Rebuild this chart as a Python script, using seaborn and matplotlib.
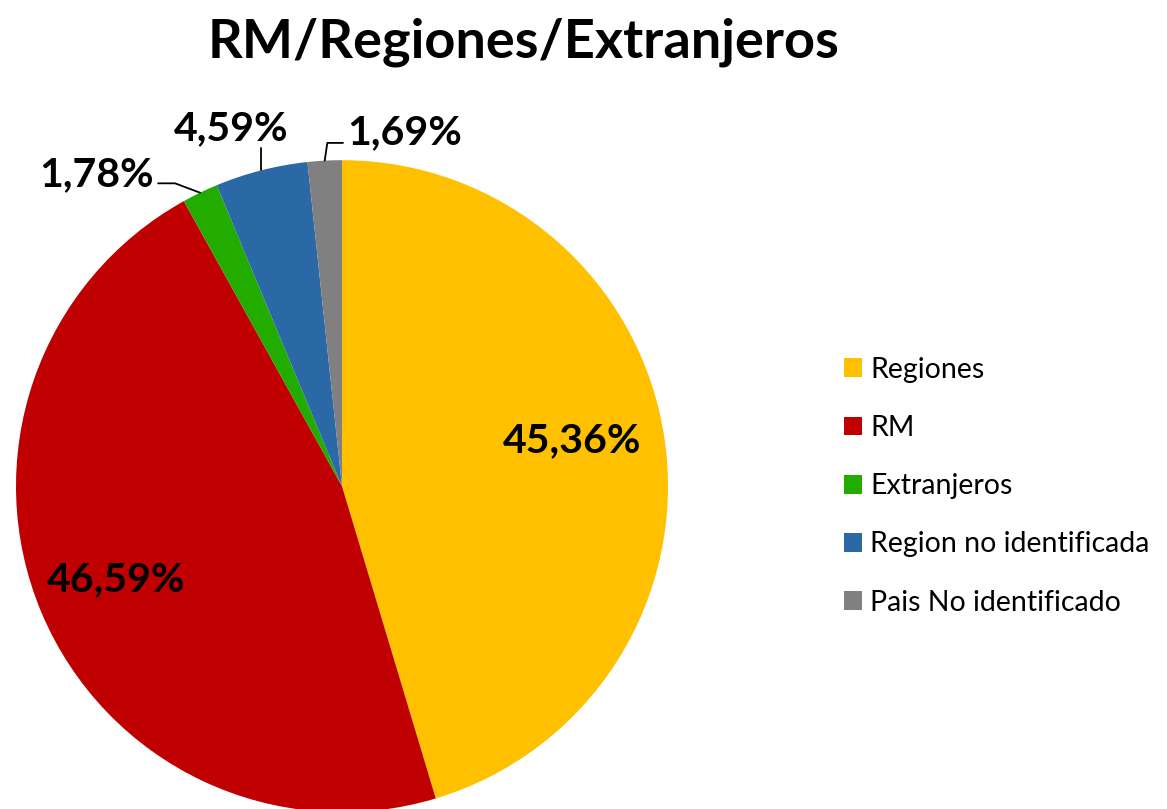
import numpy as np
import seaborn as sns
import matplotlib.pyplot as plt
from matplotlib.patches import Patch

# data
categories = ['Regiones', 'RM', 'Extranjeros', 'Region no identificada', 'Pais No identificado']
values = [45.36, 46.59, 1.78, 4.59, 1.69]
labels = ['45,36%', '46,59%', '1,78%', '4,59%', '1,69%']
colors = ['#FFC000', '#C00000', '#22AC00', '#2A68A6', '#808080']

sns.set_theme(style='white')
plt.rcParams['font.family'] = ['Lato', 'DejaVu Sans']
plt.rcParams['text.color'] = 'black'

fig = plt.figure(figsize=(11.67, 8.09), dpi=100)
ax = fig.add_axes([0.0137, -0.004, 0.5587, 0.806])
wedges, _ = ax.pie(values, colors=colors, startangle=90, counterclock=False,
                   radius=1, wedgeprops=dict(linewidth=0))
ax.set_xlim(-1, 1)
ax.set_ylim(-1, 1)
ax.set_aspect('auto')
ax.axis('off')

lab_size = 29.5

# inside labels
ax.text(0.706, 0.141, labels[0], ha='center', va='center', fontsize=lab_size, fontweight='bold')
ax.text(-0.693, -0.288, labels[1], ha='center', va='center', fontsize=lab_size, fontweight='bold')

# outside labels with leader lines
def edge_point(w):
    a = np.deg2rad((w.theta1 + w.theta2) / 2)
    return np.cos(a), np.sin(a)

x, y = edge_point(wedges[2])
ax.plot([x, -0.512, -0.564], [y, 0.929, 0.929], color='black', lw=1.3, clip_on=False)
ax.text(-0.752, 0.954, labels[2], ha='center', va='center', fontsize=lab_size, fontweight='bold', clip_on=False)

x, y = edge_point(wedges[3])
ax.plot([x, x], [y, 1.037], color='black', lw=1.3, clip_on=False)
ax.text(-0.34, 1.098, labels[3], ha='center', va='center', fontsize=lab_size, fontweight='bold', clip_on=False)

x, y = edge_point(wedges[4])
ax.plot([x, -0.045, 0.003], [y, 1.053, 1.053], color='black', lw=1.3, clip_on=False)
ax.text(0.193, 1.083, labels[4], ha='center', va='center', fontsize=lab_size, fontweight='bold', clip_on=False)

fig.text(0.449, 0.948, 'RM/Regiones/Extranjeros', ha='center', va='center', fontsize=39, fontweight='bold')

handles = [Patch(facecolor=c, edgecolor='none') for c in colors]
fig.legend(handles, categories, loc='center left', bbox_to_anchor=(0.701, 0.399), frameon=False,
           fontsize=20.5, handlelength=0.64, handleheight=0.64, handletextpad=0.3, labelspacing=1.13)

fig.savefig('out.png', dpi=100)
